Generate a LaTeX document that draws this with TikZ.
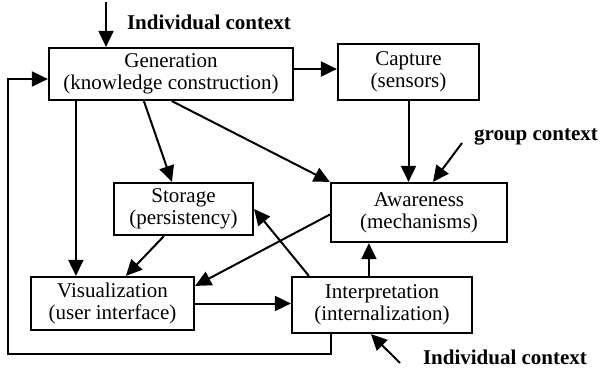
\documentclass[tikz,border=0pt]{standalone}
\usepackage{fontspec}
\setmainfont{Liberation Serif}
\usetikzlibrary{arrows.meta, positioning, calc}

\begin{document}
\begin{tikzpicture}[x=1pt, y=-1pt, line width=2pt,
  every node/.style={font=\fontsize{21}{22}\selectfont},
  box/.style={draw, line width=2.2pt, align=center, inner sep=0pt},
  arr/.style={-{Triangle[length=16pt, width=15pt]}},
  ctx/.style={font=\fontsize{21}{22}\selectfont\bfseries}]
\useasboundingbox (0,0) rectangle (600,370);
\node[box, minimum width=244pt, minimum height=52pt] (gen) at (171,74) {Generation\\(knowledge construction)};
\node[box, minimum width=141pt, minimum height=56pt] (cap) at (408.5,72) {Capture\\(sensors)};
\node[box, minimum width=176pt, minimum height=59pt] (aware) at (419,212.5) {Awareness\\(mechanisms)};
\node[box, minimum width=139pt, minimum height=52pt] (stor) at (183.5,209) {Storage\\(persistency)};
\node[box, minimum width=163pt, minimum height=53pt] (vis) at (112.5,303.5) {Visualization\\(user interface)};
\node[box, minimum width=180pt, minimum height=56pt] (interp) at (382,305) {Interpretation\\(internalization)};
% contexts
\node[ctx] (ctxind) at (209,22) {Individual context};
\node[ctx] (ctxgrp) at (536,137) {group context};
\node[ctx] (ctxbot) at (505,357) {Individual context};
\coordinate (topin) at (106,2);
\coordinate (grpin) at (462,143);
\coordinate (botin) at (400,363);
\draw[arr] (topin) -- (topin |- gen.north);
\draw[arr] (grpin) -- ([xshift=14pt]aware.north);
\draw[arr] (botin) -- ([xshift=80pt]interp.south west);
% links
\coordinate (g1) at ([xshift=28pt]gen.south west);
\coordinate (i2) at ([xshift=78pt]interp.north west);
\coordinate (i3) at ([xshift=40pt]interp.south west);
\coordinate (loopB) at (8,354);
\coordinate (loopT) at (8,79);
\draw[arr] (gen.east |- 0,69) -- (cap.west |- 0,69);
\draw[arr] (cap.south) -- (cap.south |- aware.north);
\draw[arr] ([xshift=124pt]gen.south west) -- (aware.north west);
\draw[arr] ([xshift=96pt]gen.south west) -- ([xshift=59pt]stor.north west);
\draw[arr] (g1) -- (g1 |- vis.north);
\draw[arr] ([xshift=51pt]stor.south west) -- ([xshift=96pt]vis.north west);
\draw[arr] ([yshift=-2pt]aware.west) -- ([yshift=-10pt]vis.north east);
\draw[arr] (vis.east) -- (vis.east -| interp.west);
\draw[arr] ([xshift=18pt]interp.north west) -- (stor.east);
\draw[arr] (i2) -- (i2 |- aware.south);
\draw[arr] (i3) -- (i3 |- loopB) -- (loopB) -- (loopT) -- (gen.west |- loopT);
\end{tikzpicture}
\end{document}
